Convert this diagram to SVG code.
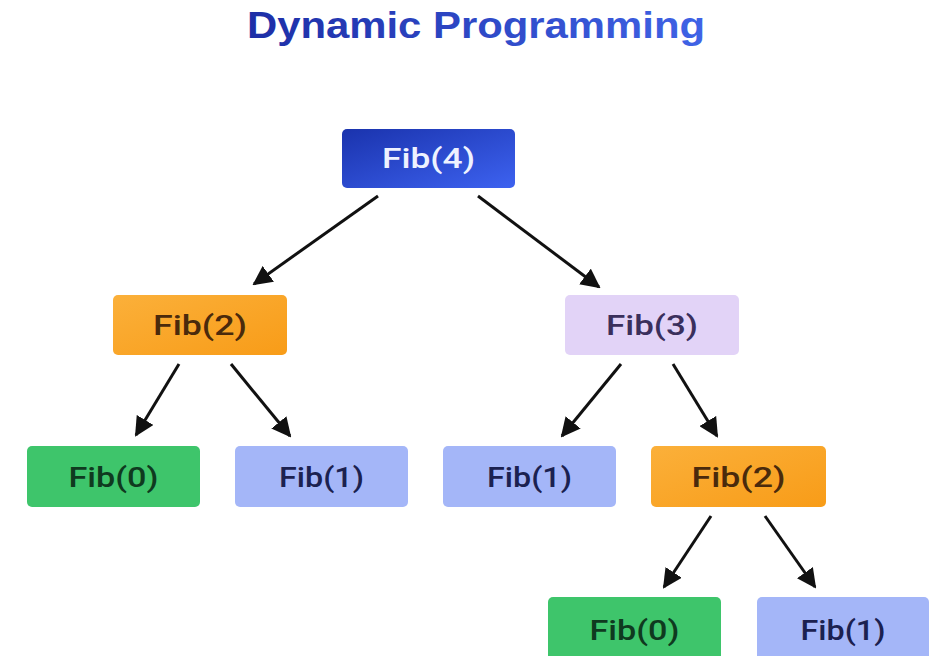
<svg xmlns="http://www.w3.org/2000/svg" width="942" height="656" viewBox="0 0 942 656">
  <defs>
    <linearGradient id="gTitle" x1="0" y1="0" x2="1" y2="0">
      <stop offset="0" stop-color="#1d2ea6"/>
      <stop offset="1" stop-color="#3f63e6"/>
    </linearGradient>
    <linearGradient id="gBlue" x1="0" y1="0" x2="1" y2="1">
      <stop offset="0" stop-color="#1a33ad"/>
      <stop offset="1" stop-color="#3d62f0"/>
    </linearGradient>
    <linearGradient id="gOrange" x1="0" y1="0" x2="1" y2="1">
      <stop offset="0" stop-color="#fbb03a"/>
      <stop offset="1" stop-color="#f89c18"/>
    </linearGradient>
    <marker id="arr" viewBox="0 0 10 10" refX="9" refY="5" markerWidth="6.5" markerHeight="6.5" markerUnits="strokeWidth" orient="auto">
      <path d="M0,0 L10,5 L0,10 z" fill="#111"/>
    </marker>
  </defs>
  <style>
    .box { stroke: none; }
    .lbl { font-family: Roboto, "Liberation Sans", Arial, sans-serif; font-weight: 500; font-size: 27px; text-anchor: middle; }
    .edge { stroke: #111; stroke-width: 3; fill: none; marker-end: url(#arr); }
  </style>
  <rect width="942" height="656" fill="#ffffff"/>
  <text x="476" y="38" font-family="'Liberation Sans', Arial, sans-serif" font-weight="bold" font-size="36" text-anchor="middle" textLength="458" lengthAdjust="spacingAndGlyphs" fill="url(#gTitle)">Dynamic Programming</text>

  <g id="connectors">
    <line class="edge" x1="378" y1="196" x2="254" y2="284"/>
    <line class="edge" x1="478" y1="196" x2="599" y2="287"/>
    <line class="edge" x1="179" y1="364" x2="136" y2="435"/>
    <line class="edge" x1="231" y1="364" x2="290" y2="436"/>
    <line class="edge" x1="621" y1="364" x2="562" y2="436"/>
    <line class="edge" x1="673" y1="364" x2="717" y2="436"/>
    <line class="edge" x1="711" y1="516" x2="664" y2="587"/>
    <line class="edge" x1="765" y1="516" x2="815" y2="587"/>
  </g>

  <g id="fib4">
    <rect class="box" x="342" y="129" width="173" height="59" rx="5" fill="url(#gBlue)"/>
    <text class="lbl" x="428.5" y="168" fill="#eef2ff" textLength="93" lengthAdjust="spacingAndGlyphs">Fib(4)</text>
  </g>
  <g id="fib2a">
    <rect class="box" x="113" y="295" width="174" height="60" rx="5" fill="url(#gOrange)"/>
    <text class="lbl" x="200" y="335" fill="#4a2a0c" textLength="94" lengthAdjust="spacingAndGlyphs">Fib(2)</text>
  </g>
  <g id="fib3">
    <rect class="box" x="565" y="295" width="174" height="60" rx="5" fill="#e2d3f7"/>
    <text class="lbl" x="652" y="335" fill="#3a2f5c" textLength="92" lengthAdjust="spacingAndGlyphs">Fib(3)</text>
  </g>
  <g id="fib0a">
    <rect class="box" x="27" y="446" width="173" height="61" rx="5" fill="#3ec56b"/>
    <text class="lbl" x="113.5" y="487" fill="#0f3a1f" textLength="90" lengthAdjust="spacingAndGlyphs">Fib(0)</text>
  </g>
  <g id="fib1a">
    <rect class="box" x="235" y="446" width="173" height="61" rx="5" fill="#a4b6f8"/>
    <text class="lbl" x="321.5" y="487" fill="#1b2150" textLength="85" lengthAdjust="spacingAndGlyphs">Fib(1)</text>
  </g>
  <g id="fib1b">
    <rect class="box" x="443" y="446" width="173" height="61" rx="5" fill="#a4b6f8"/>
    <text class="lbl" x="529.5" y="487" fill="#1b2150" textLength="85" lengthAdjust="spacingAndGlyphs">Fib(1)</text>
  </g>
  <g id="fib2b">
    <rect class="box" x="651" y="446" width="175" height="61" rx="5" fill="url(#gOrange)"/>
    <text class="lbl" x="738.5" y="487" fill="#4a2a0c" textLength="94" lengthAdjust="spacingAndGlyphs">Fib(2)</text>
  </g>
  <g id="fib0b">
    <rect class="box" x="548" y="597" width="173" height="66" rx="5" fill="#3ec56b"/>
    <text class="lbl" x="634.5" y="640" fill="#0f3a1f" textLength="90" lengthAdjust="spacingAndGlyphs">Fib(0)</text>
  </g>
  <g id="fib1c">
    <rect class="box" x="757" y="597" width="172" height="66" rx="5" fill="#a4b6f8"/>
    <text class="lbl" x="843" y="640" fill="#1b2150" textLength="85" lengthAdjust="spacingAndGlyphs">Fib(1)</text>
  </g>
</svg>
